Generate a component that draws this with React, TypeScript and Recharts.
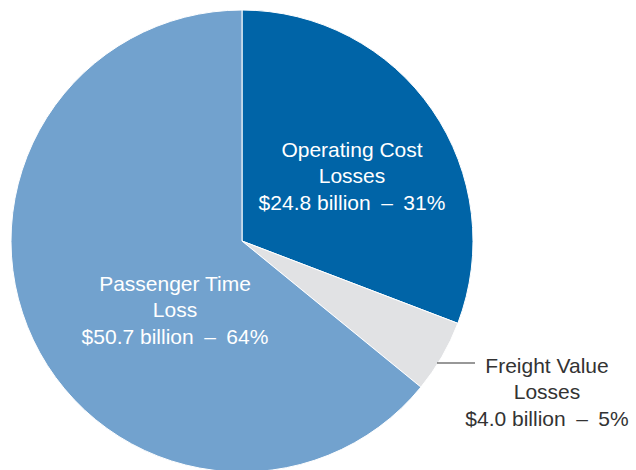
import React from "react";
import { PieChart, Pie, Cell } from "recharts";

const categories = ["Operating Cost Losses", "Freight Value Losses", "Passenger Time Loss"];
const titleLine1 = ["Operating Cost", "Freight Value", "Passenger Time"];
const titleLine2 = ["Losses", "Losses", "Loss"];
const valuesBillion = [24.8, 4.0, 50.7];
const percents = [31, 5, 64];
// slice shares as drawn in the picture (percent of the circle)
const sliceShares = [30.8, 5.1, 64.1];
const colors = ["#0064A7", "#E1E2E4", "#72A2CE"];

const data = categories.map((name, i) => ({
  name,
  value: sliceShares[i],
  l1: titleLine1[i],
  l2: titleLine2[i],
  l3: `$${valuesBillion[i].toFixed(1)} billion\u2002\u2013\u2002${percents[i]}%`,
}));

const FONT = "'Liberation Sans', Arial, sans-serif";

// label anchor offsets relative to pie centre (middle line baseline)
const labelOffsets = [
  { dx: 110, dy: -58, fill: "#ffffff" },
  { dx: 305, dy: 158, fill: "#333333" },
  { dx: -67, dy: 76, fill: "#ffffff" },
];

const renderLabel = (props: any) => {
  const { cx, cy, index, payload } = props;
  const o = labelOffsets[index];
  const x = cx + o.dx;
  const y = cy + o.dy;
  const p = payload && payload.l1 ? payload : data[index];
  return (
    <g key={`lab-${index}`}>
      {index === 1 && (
        <line x1={cx + 195} y1={cy + 122} x2={cx + 233} y2={cy + 122} stroke="#333" strokeWidth={1.2} />
      )}
      <text x={x} y={y - 26.5} textAnchor="middle" fill={o.fill} fontSize={21} fontFamily={FONT}>
        {p.l1}
      </text>
      <text x={x} y={y} textAnchor="middle" fill={o.fill} fontSize={21} fontFamily={FONT}>
        {p.l2}
      </text>
      <text x={x} y={y + 26.5} textAnchor="middle" fill={o.fill} fontSize={21} fontFamily={FONT}>
        {p.l3}
      </text>
    </g>
  );
};

export default function App() {
  return (
    <div style={{ position: "absolute", left: 0, top: 0, width: 636, height: 470, background: "#fff" }}>
      <PieChart width={636} height={470} margin={{ top: 0, right: 0, bottom: 0, left: 0 }}>
        <Pie
          data={data}
          dataKey="value"
          nameKey="name"
          cx={242}
          cy={241}
          outerRadius={231}
          innerRadius={0}
          startAngle={90}
          endAngle={-270}
          stroke="#ffffff"
          strokeWidth={1}
          label={renderLabel}
          labelLine={false}
          isAnimationActive={false}
        >
          {data.map((d, i) => (
            <Cell key={d.name} fill={colors[i]} />
          ))}
        </Pie>
      </PieChart>
    </div>
  );
}
